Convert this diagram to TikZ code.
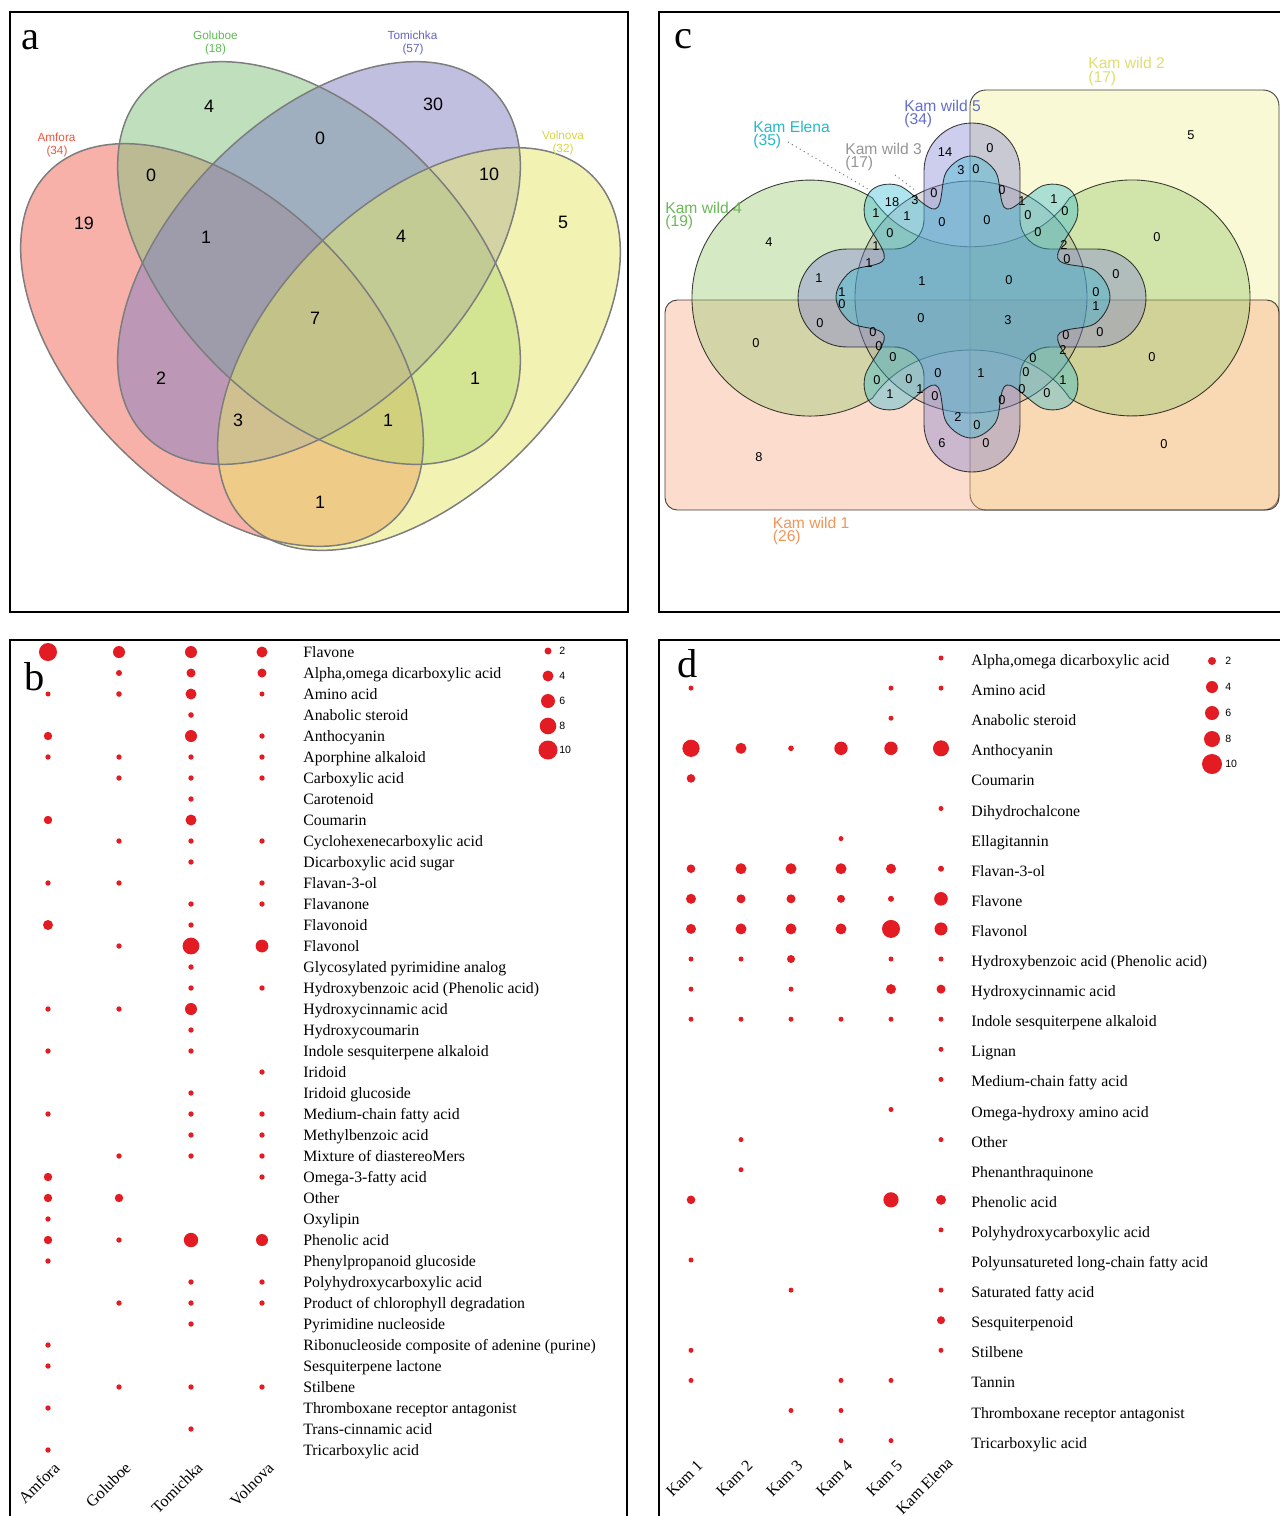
\documentclass[tikz,border=0pt]{standalone}
\usepackage{fontspec}
\setmainfont{Liberation Serif}
\setsansfont{Liberation Sans}
\definecolor{dotred}{RGB}{226,28,34}
\definecolor{aRed}{RGB}{240,100,85}
\definecolor{aGrn}{RGB}{130,195,125}
\definecolor{aPur}{RGB}{130,128,195}
\definecolor{aYel}{RGB}{230,232,105}
\definecolor{aEdge}{RGB}{125,125,125}
\definecolor{aRedT}{RGB}{240,85,65}
\definecolor{aGrnT}{RGB}{95,185,85}
\definecolor{aPurT}{RGB}{100,100,195}
\definecolor{aYelT}{RGB}{215,215,60}
\definecolor{cYel}{RGB}{240,240,150}
\definecolor{cPea}{RGB}{248,170,130}
\definecolor{cGrn}{RGB}{150,200,110}
\definecolor{cGry}{RGB}{150,150,150}
\definecolor{cPur}{RGB}{130,130,210}
\definecolor{cCya}{RGB}{55,185,210}
\definecolor{cYelT}{RGB}{225,222,110}
\definecolor{cBluT}{RGB}{100,110,205}
\definecolor{cCyaT}{RGB}{40,185,200}
\definecolor{cGryT}{RGB}{150,150,150}
\definecolor{cGrnT}{RGB}{105,185,85}
\definecolor{cOrgT}{RGB}{240,150,90}
\begin{document}
\begin{tikzpicture}[x=0.02cm,y=-0.02cm,
  frame/.style={draw=black,line width=1.1pt},
  plet/.style={font=\fontsize{23}{23}\selectfont,inner sep=0,anchor=base west},
  anum/.style={font=\sffamily\fontsize{10.2}{11}\selectfont,inner sep=0},
  alab/.style={font=\sffamily\fontsize{6.7}{7}\selectfont,inner sep=0,anchor=base},
  cnum/.style={font=\sffamily\fontsize{7.3}{8}\selectfont,inner sep=0},
  clab/.style={font=\sffamily\fontsize{8.9}{9}\selectfont,inner sep=0,anchor=base west},
  rowlab/.style={font=\fontsize{9}{10}\selectfont,inner sep=0,anchor=base west},
  axlab/.style={font=\fontsize{9.2}{10}\selectfont,inner sep=0,rotate=45,anchor=east},
  leg/.style={font=\sffamily\fontsize{6}{7}\selectfont,inner sep=0,anchor=west},
  vset/.style={draw=black,draw opacity=0.75,line width=0.5pt,fill opacity=0.4},
  leader/.style={draw=gray,dotted,line width=0.6pt}
]
\useasboundingbox (0,0) rectangle (1280,1516);
\clip (0,0) rectangle (1280,1516);
\fill[white] (0,0) rectangle (1280,1516);

% ================= panel a =================
\foreach \c/\cx/\cy/\a in {aRed/222/345/-45, aGrn/319/263/-45, aPur/319/263/45, aYel/419/349/45}{
  \fill[\c, fill opacity=0.5, rotate around={\a:(\cx,\cy)}] (\cx,\cy) ellipse[x radius=245, y radius=145];
}
\foreach \cx/\cy/\a in {222/345/-45, 319/263/-45, 319/263/45, 419/349/45}{
  \draw[aEdge, line width=0.85pt, rotate around={\a:(\cx,\cy)}] (\cx,\cy) ellipse[x radius=245, y radius=145];
}
\foreach \x/\y/\t [count=\i] in {209/106/4, 433/104/30, 320/138/0, 151/175/0, 489/174/10, 84/223/19,
  206/237/1, 401/236/4, 563/222/5, 315/318/7, 161/378/2, 475/378/1, 238/420/3, 388/420/1, 320/502/1}{
  \node[anum] (an\i) at (\x,\y) {\t};
}
\node[alab, text=aGrnT] (gol) at (215.5,39.5) {Goluboe};
\node[alab, text=aGrnT] (gol2) at (215.5,52.5) {(18)};
\node[alab, text=aPurT] (tom) at (412.5,39.5) {Tomichka};
\node[alab, text=aPurT] (tom2) at (413,52.5) {(57)};
\node[alab, text=aRedT] (amf) at (56.5,141.5) {Amfora};
\node[alab, text=aRedT] (amf2) at (57,154.5) {(34)};
\node[alab, text=aYelT] (vol) at (563,139.5) {Volnova};
\node[alab, text=aYelT] (vol2) at (563,152.5) {(32)};
\node[plet] (la) at (21,49) {a};
\draw[frame] (10,12) rectangle (628,612);

% ================= panel c =================
\path[vset, fill=cYel, rounded corners=9pt] (970,90) rectangle (1279,510);
\path[vset, fill=cPea, rounded corners=7pt] (665,300) rectangle (1279,510);
% Kam wild 4 (green, two lobes)
\path[vset, fill=cGrn] (872.5,198) arc[start angle=-58, end angle=-302, radius=118]
  .. controls (915,334) and (1027,334) .. (1069.5,398)
  arc[start angle=122, end angle=-122, radius=118]
  .. controls (1027,263) and (915,263) .. (872.5,198) -- cycle;
% Kam wild 3 (grey circle)
\path[vset, fill=cGry, fill opacity=0.3] (971,297) circle[radius=116];
% Kam wild 5 (purple, four lobes)
\path[vset, fill=cPur] (924,171) arc[start angle=180, end angle=360, radius=48]
  -- (1020,219) arc[start angle=180, end angle=90, radius=30]
  -- (1097,249) arc[start angle=270, end angle=450, radius=49]
  -- (1050,347) arc[start angle=270, end angle=180, radius=30]
  -- (1020,424) arc[start angle=0, end angle=180, radius=48]
  -- (924,377) arc[start angle=0, end angle=-90, radius=30]
  -- (847,347) arc[start angle=90, end angle=270, radius=49]
  -- (894,249) arc[start angle=90, end angle=0, radius=30]
  -- cycle;
% Kam Elena (cyan, eight lobes)
\begin{scope}[shift={(971,297)}]
\path[vset, fill=cCya] plot[smooth cycle, tension=0.6] coordinates {
  (-101:128) (-90:141) (-79:128) (-68:95)
  (-57:133) (-47:146) (-37:133) (-24:95)
  (-12:127) (0:139) (12:127) (24:95)
  (37:133) (47:146) (57:133) (68:95)
  (79:128) (90:141) (101:128) (112:95)
  (123:133) (133:146) (143:133) (156:95)
  (168:123) (180:135) (192:123) (204:95)
  (217:133) (227:146) (237:133) (248:95)};
\end{scope}
% numbers
\foreach \x/\y/\t [count=\i] in {
 1191/135/5, 945/152/14, 990/148/0, 961/170/3, 976/169/0, 892/202/18, 915/200/3, 934/193/0,
 1002/190/0, 1022/201/1, 1054/199/1, 1065/211/0, 876/213/1, 907/216/1, 942/222/0, 987/220/0,
 1028/215/0, 1038/232/0, 890/233/0, 769/242/4, 1157/237/0, 876/246/1, 1064/245/2, 1067/259/0,
 869/263/1, 819/278/1, 1116/274/0, 922/281/1, 1009/280/0, 842/292/1, 842/304/0, 1096/292/0,
 1096/306/1, 820/323/0, 1100/332/0, 756/343/0, 921/318/0, 1008/320/3, 873/332/0, 1066/335/0,
 879/346/0, 1063/350/2, 1152/357/0, 893/357/0, 1033/358/0, 938/373/0, 981/373/1, 877/380/0,
 909/379/0, 920/389/1, 1026/372/0, 1022/389/0, 1063/380/1, 1047/393/0, 890/394/1, 935/396/0,
 1002/400/0, 958/417/2, 977/425/0, 942/443/6, 986/443/0, 759/457/8, 1164/444/0}{
  \node[cnum] (cn\i) at (\x,\y) {\t};
}
% set labels
\node[clab, text=cYelT] (kw2) at (1088,68.5) {Kam wild 2};
\node[clab, text=cYelT] (kw2n) at (1088,82) {(17)};
\node[clab, text=cBluT] (kw5) at (904,111) {Kam wild 5};
\node[clab, text=cBluT] (kw5n) at (904,124.5) {(34)};
\node[clab, text=cCyaT] (ke) at (753,132) {Kam Elena};
\node[clab, text=cCyaT] (ken) at (753,145.5) {(35)};
\node[clab, text=cGryT] (kw3) at (845,154) {Kam wild 3};
\node[clab, text=cGryT] (kw3n) at (845,167.5) {(17)};
\node[clab, text=cGrnT] (kw4) at (665,213) {Kam wild 4};
\node[clab, text=cGrnT] (kw4n) at (665,226.5) {(19)};
\node[clab, text=cOrgT] (kw1) at (772.5,528) {Kam wild 1};
\node[clab, text=cOrgT] (kw1n) at (772.5,541.5) {(26)};
\coordinate (le1a) at (788,142);
\coordinate (le1b) at (873,192);
\coordinate (le2a) at (895,175);
\coordinate (le2b) at (915,190);
\draw[leader] (le1a) -- (le1b);
\draw[leader] (le2a) -- (le2b);
\node[plet] (lc) at (674,48) {c};
\draw[frame] (659,12) rectangle (1300,612);

% ================= panel b =================
\foreach \t [count=\k from 0] in {Flavone, {Alpha,omega dicarboxylic acid}, Amino acid, Anabolic steroid,
  Anthocyanin, Aporphine alkaloid, Carboxylic acid, Carotenoid, Coumarin, Cyclohexenecarboxylic acid,
  Dicarboxylic acid sugar, Flavan-3-ol, Flavanone, Flavonoid, Flavonol, Glycosylated pyrimidine analog,
  {Hydroxybenzoic acid (Phenolic acid)}, Hydroxycinnamic acid, Hydroxycoumarin,
  Indole sesquiterpene alkaloid, Iridoid, Iridoid glucoside, Medium-chain fatty acid,
  Methylbenzoic acid, Mixture of diastereoMers, Omega-3-fatty acid, Other, Oxylipin, Phenolic acid,
  Phenylpropanoid glucoside, Polyhydroxycarboxylic acid, Product of chlorophyll degradation,
  Pyrimidine nucleoside, {Ribonucleoside composite of adenine (purine)}, Sesquiterpene lactone,
  Stilbene, Thromboxane receptor antagonist, Trans-cinnamic acid, Tricarboxylic acid}{
  \node[rowlab] (bl\k) at (303,{657.6+21*\k}) {\t};
}
\foreach \x/\k/\r in {
 48/0/9, 119/0/6, 191/0/6, 262/0/5.5,
 119/1/3, 191/1/4.5, 262/1/4.5,
 48/2/2.5, 119/2/2.8, 191/2/5.5, 262/2/2.5,
 191/3/2.8,
 48/4/4.2, 191/4/6, 262/4/2.7,
 48/5/2.7, 119/5/2.7, 191/5/2.7, 262/5/2.7,
 119/6/2.7, 191/6/2.7, 262/6/2.7,
 191/7/2.7,
 48/8/4.2, 191/8/5.5,
 119/9/2.7, 191/9/2.7, 262/9/2.7,
 191/10/2.7,
 48/11/2.7, 119/11/2.7, 262/11/2.7,
 191/12/2.7, 262/12/2.7,
 48/13/5, 191/13/2.7,
 119/14/2.7, 191/14/8.4, 262/14/6.4,
 191/15/2.7,
 191/16/2.7, 262/16/2.7,
 48/17/2.7, 119/17/2.7, 191/17/6,
 191/18/2.7,
 48/19/2.7, 191/19/2.7,
 262/20/2.7,
 191/21/2.7,
 48/22/2.7, 191/22/2.7, 262/22/2.7,
 191/23/2.7, 262/23/2.7,
 119/24/2.7, 191/24/2.7, 262/24/2.7,
 48/25/4.2, 262/25/2.7,
 48/26/4.2, 119/26/4.2,
 48/27/2.7,
 48/28/4.2, 119/28/2.7, 191/28/7.2, 262/28/6,
 48/29/2.7,
 191/30/2.7, 262/30/2.7,
 119/31/2.7, 191/31/2.7, 262/31/2.7,
 191/32/2.7,
 48/33/2.7,
 48/34/2.7,
 119/35/2.7, 191/35/2.7, 262/35/2.7,
 48/36/2.7,
 191/37/2.7,
 48/38/2.7}{
  \fill[dotred] (\x,{652+21*\k}) circle[radius=\r];
}
\foreach \y/\r/\t [count=\i] in {651/3.5/2, 676/5.5/4, 701/7/6, 726/8.3/8, 750/9.5/10}{
  \fill[dotred] (548,\y) circle[radius=\r];
  \node[leg] (bg\i) at (559,\y) {\t};
}
\node[axlab] (bx1) at (57,1465) {Amfora};
\node[axlab] (bx2) at (128,1465) {Goluboe};
\node[axlab] (bx3) at (200,1465) {Tomichka};
\node[axlab] (bx4) at (271,1465) {Volnova};
\node[plet] (lb) at (24,690) {b};
\draw[frame] (10,640) rectangle (627,1540);

% ================= panel d =================
\foreach \t [count=\k from 0] in {{Alpha,omega dicarboxylic acid}, Amino acid, Anabolic steroid,
  Anthocyanin, Coumarin, Dihydrochalcone, Ellagitannin, Flavan-3-ol, Flavone, Flavonol,
  {Hydroxybenzoic acid (Phenolic acid)}, Hydroxycinnamic acid, Indole sesquiterpene alkaloid,
  Lignan, Medium-chain fatty acid, Omega-hydroxy amino acid, Other, Phenanthraquinone,
  Phenolic acid, Polyhydroxycarboxylic acid, Polyunsatureted long-chain fatty acid,
  Saturated fatty acid, Sesquiterpenoid, Stilbene, Tannin, Thromboxane receptor antagonist,
  Tricarboxylic acid}{
  \node[rowlab] (dl\k) at (971,{665.5+30.1*\k}) {\t};
}
\foreach \x/\k/\r in {
 941/0/2.5,
 691/1/2.5, 891/1/2.5, 941/1/2.5,
 891/2/2.5,
 691/3/8.6, 741/3/5.5, 791/3/2.8, 841/3/6.7, 891/3/6.7, 941/3/8,
 691/4/4.3,
 941/5/2.5,
 841/6/2.5,
 691/7/4.3, 741/7/5.5, 791/7/5.5, 841/7/5.5, 891/7/5, 941/7/3,
 691/8/5, 741/8/4.5, 791/8/4.5, 841/8/4, 891/8/3, 941/8/6.8,
 691/9/5, 741/9/5.5, 791/9/5.5, 841/9/5.5, 891/9/9, 941/9/6.5,
 691/10/2.5, 741/10/2.5, 791/10/4, 891/10/2.5, 941/10/2.5,
 691/11/2.5, 791/11/2.5, 891/11/5, 941/11/4.5,
 691/12/2.5, 741/12/2.5, 791/12/2.5, 841/12/2.5, 891/12/2.5, 941/12/2.5,
 941/13/2.5,
 941/14/2.5,
 891/15/2.5,
 741/16/2.5, 941/16/2.5,
 741/17/2.5,
 691/18/4.3, 891/18/7.6, 941/18/5,
 941/19/2.5,
 691/20/2.5,
 791/21/2.5, 941/21/2.5,
 941/22/4,
 691/23/2.5, 941/23/2.5,
 691/24/2.5, 841/24/2.5, 891/24/2.5,
 791/25/2.5, 841/25/2.5,
 841/26/2.5, 891/26/2.5}{
  \fill[dotred] (\x,{658+30.1*\k}) circle[radius=\r];
}
\foreach \y/\r/\t [count=\i] in {661/4/2, 687/6/4, 713/7/6, 739/8/8, 764/10/10}{
  \fill[dotred] (1212,\y) circle[radius=\r];
  \node[leg] (dg\i) at (1225,\y) {\t};
}
\node[axlab] (dx1) at (700,1463) {Kam 1};
\node[axlab] (dx2) at (750,1463) {Kam 2};
\node[axlab] (dx3) at (800,1463) {Kam 3};
\node[axlab] (dx4) at (850,1463) {Kam 4};
\node[axlab] (dx5) at (900,1463) {Kam 5};
\node[axlab] (dx6) at (950,1460) {Kam Elena};
\node[plet] (ld) at (677,677) {d};
\draw[frame] (659,640) rectangle (1300,1540);
\end{tikzpicture}
\end{document}
